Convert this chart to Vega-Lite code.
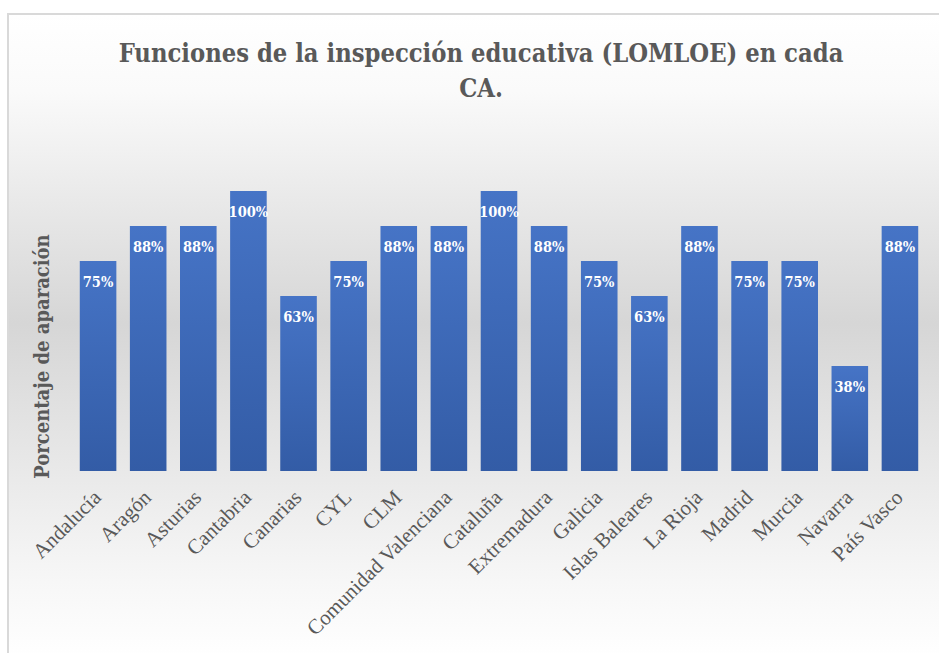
{
  "$schema": "https://vega.github.io/schema/vega-lite/v6.json",
  "autosize": {"type": "none"},
  "width": 940,
  "height": 645,
  "padding": {"left": 8, "top": 14, "right": 0, "bottom": 0},
  "background": "#ffffff",
  "title": {
    "text": ["Funciones de la inspección educativa (LOMLOE) en cada", "CA."],
    "font": "DejaVu Serif Condensed",
    "fontSize": 25.3,
    "fontWeight": "bold",
    "color": "#595959",
    "anchor": "middle",
    "frame": "group",
    "offset": -88,
    "lineHeight": 35,
    "dx": 3
  },
  "config": {
    "view": {
      "stroke": "#d9d9d9",
      "strokeWidth": 2,
      "fill": {
        "gradient": "linear",
        "x1": 0, "y1": 0, "x2": 0, "y2": 1,
        "stops": [
          {"offset": 0, "color": "#ffffff"},
          {"offset": 0.12, "color": "#fafafa"},
          {"offset": 0.48, "color": "#d6d6d6"},
          {"offset": 0.88, "color": "#f7f7f7"},
          {"offset": 1, "color": "#ffffff"}
        ]
      }
    }
  },
  "data": {
    "values": [
      {"ca": "Andalucía", "pct": 0.75},
      {"ca": "Aragón", "pct": 0.875},
      {"ca": "Asturias", "pct": 0.875},
      {"ca": "Cantabria", "pct": 1.0},
      {"ca": "Canarias", "pct": 0.625},
      {"ca": "CYL", "pct": 0.75},
      {"ca": "CLM", "pct": 0.875},
      {"ca": "Comunidad Valenciana", "pct": 0.875},
      {"ca": "Cataluña", "pct": 1.0},
      {"ca": "Extremadura", "pct": 0.875},
      {"ca": "Galicia", "pct": 0.75},
      {"ca": "Islas Baleares", "pct": 0.625},
      {"ca": "La Rioja", "pct": 0.875},
      {"ca": "Madrid", "pct": 0.75},
      {"ca": "Murcia", "pct": 0.75},
      {"ca": "Navarra", "pct": 0.375},
      {"ca": "País Vasco", "pct": 0.875}
    ]
  },
  "encoding": {
    "x": {
      "field": "ca",
      "type": "nominal",
      "sort": null,
      "scale": {"range": [65, 917], "paddingInner": 0.27, "paddingOuter": 0.135},
      "axis": {
        "title": null,
        "offset": -188,
        "domain": false,
        "ticks": false,
        "labelAngle": -45,
        "labelAlign": "right",
        "labelBaseline": "middle",
        "labelPadding": 23,
        "labelFont": "Liberation Serif",
        "labelFontSize": 21,
        "labelColor": "#595959",
        "labelOverlap": false,
        "labelLimit": 400
      }
    },
    "y": {
      "field": "pct",
      "type": "quantitative",
      "scale": {"domain": [0, 1], "range": [457, 177], "nice": false},
      "axis": {
        "title": "Porcentaje de aparación",
        "titleFont": "DejaVu Serif Condensed",
        "titleFontSize": 20,
        "titleFontWeight": "bold",
        "titleColor": "#595959",
        "titleAngle": -90,
        "titleAlign": "center",
        "titleBaseline": "middle",
        "titleX": 34,
        "titleY": 342,
        "labels": false,
        "ticks": false,
        "domain": false,
        "grid": false
      }
    }
  },
  "layer": [
    {
      "mark": {
        "type": "bar",
        "fill": {
          "gradient": "linear",
          "x1": 0, "y1": 0, "x2": 0, "y2": 1,
          "stops": [
            {"offset": 0, "color": "#4674c6"},
            {"offset": 1, "color": "#335ca6"}
          ]
        }
      }
    },
    {
      "mark": {
        "type": "text",
        "font": "DejaVu Serif Condensed",
        "fontSize": 14.5,
        "fontWeight": "bold",
        "color": "#ffffff",
        "baseline": "middle",
        "dy": 22
      },
      "encoding": {
        "text": {"field": "pct", "type": "quantitative", "format": ".0%"}
      }
    }
  ]
}
